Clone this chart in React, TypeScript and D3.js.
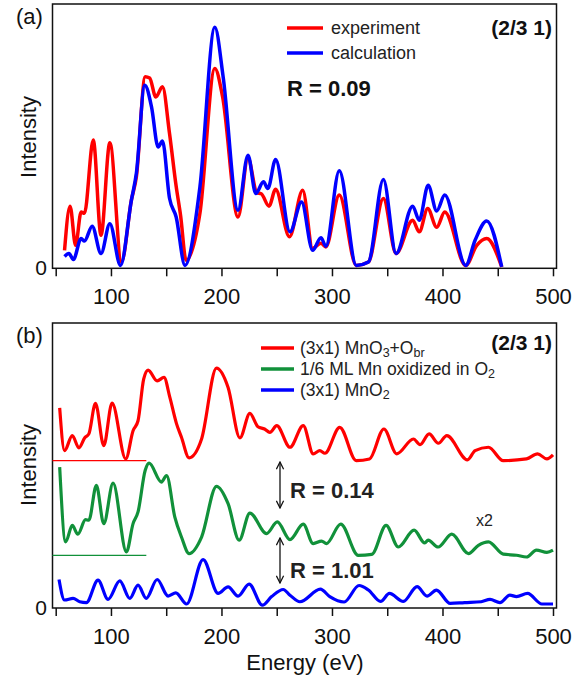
import React, { useRef, useEffect } from 'react';
import * as d3 from 'd3';

// ---- panel (a): experiment vs. calculation ----
const expEnergy = [58, 63, 68, 73, 76, 84, 91, 99, 109.5, 118.5, 123, 131, 135, 140.6, 146.6, 153, 159, 163, 168, 180.5, 194, 201, 215, 224, 232, 236, 243, 249, 261.5, 273.5, 282.5, 290, 294.5, 306.6, 322, 333, 346.5, 358, 373, 379, 386.6, 394.8, 402, 421, 431, 440, 453.6];
const expIntensity = [6.8, 23.5, 8.7, 21.3, 20.8, 48.5, 12.5, 47.5, 2.4, 25.8, 34.6, 72.5, 72, 64.8, 68.7, 51, 31, 20, 3, 20.8, 75.6, 64.9, 19.4, 41.7, 28.6, 28.2, 23.5, 29.9, 11.9, 29.5, 7.5, 9.5, 8.1, 27.7, 1.1, 2.4, 26.4, 5.6, 18.2, 13.8, 22.6, 15.5, 21.3, 1.1, 8.7, 11.3, 0.5];

const calcEnergy = [58, 62, 66, 73, 76, 83, 91, 99, 108.6, 118.5, 123, 130.6, 136.7, 142.7, 146.6, 153, 159, 167, 180.5, 194, 201.5, 215, 224, 231, 238, 242, 249, 262, 272.5, 282.5, 290, 294.5, 306.6, 322, 333, 346.5, 358, 373, 379, 387, 394.8, 402, 421, 429.5, 440, 453.6];
const calcIntensity = [4.5, 5.6, 3.3, 11.3, 10.3, 15.9, 5.6, 16.9, 1.1, 25.8, 36, 69.3, 61.1, 45.9, 48.2, 26.5, 19.4, 1.1, 30.8, 91.2, 72.5, 22, 42.8, 28.3, 32.7, 30.2, 41.2, 13.8, 25.1, 6.8, 11.6, 8.3, 36.9, 1.1, 2.4, 33.6, 5.6, 23.5, 18.2, 31.4, 21.7, 27.7, 1.1, 10.6, 17.9, 0.5];

// ---- panel (b): stacked spectra (offsets included) ----
const obrEnergy = [53.6, 58, 65, 71, 76.3, 80, 86, 93.5, 101, 113.4, 120, 124.5, 129.6, 133.6, 141.8, 148, 153.3, 159.3, 163.8, 170.7, 182, 195.5, 206, 216.7, 225.7, 233, 239, 243.8, 250, 262, 274, 283, 289, 293.6, 307, 322, 334, 347, 358.6, 373.7, 379.7, 387.9, 396.3, 403.9, 422.6, 429.5, 441.6, 455, 476, 486, 494.5, 500];
const obrIntensity = [70.2, 55.2, 60.5, 56.2, 59.7, 61.1, 71.8, 57, 71.9, 52.3, 62.2, 65.7, 80.3, 83.5, 79.7, 80.9, 73.9, 64.7, 59.9, 52.7, 59.3, 84.2, 77.4, 59.7, 68.3, 63.6, 62.8, 61.6, 64, 56.4, 64, 54.1, 55.2, 54.3, 63.4, 51.7, 52.3, 62.8, 54.1, 59.3, 57.3, 61.1, 57.8, 60.5, 52, 55.2, 56.4, 51.7, 52.3, 54.1, 52.3, 53.7];

const oxEnergy = [53.6, 59, 65, 70, 77, 80, 86.8, 93.5, 101.9, 114, 120, 124.5, 131, 134.5, 145.7, 150.3, 157.8, 163.8, 170.7, 182, 195.5, 206, 216, 225.7, 240.8, 250.5, 262, 274, 283, 290.6, 295, 307.9, 323.8, 336, 349, 360, 374.3, 384, 387, 396, 408.4, 423.5, 432.5, 441.6, 455, 467, 476, 485, 494.5, 500];
const oxIntensity = [49.4, 23.2, 29, 25.9, 31, 30.8, 43, 29.6, 43.8, 19.7, 29.6, 33.7, 48.3, 50.8, 44.2, 46.5, 31.9, 24.9, 19.1, 24.9, 42.7, 36.6, 23.8, 33.3, 26.1, 30.2, 24, 29.4, 22.6, 23.5, 22.6, 29.4, 18.5, 18.8, 29, 21.4, 27.3, 22.8, 23.8, 21.4, 25.9, 19.1, 22, 23.2, 18.9, 18.5, 17.9, 20.3, 19.5, 20.3];

const mno2Energy = [53, 58, 65.7, 71.7, 77.8, 88.3, 97.4, 108, 117, 124.5, 132, 141.8, 151.7, 158.7, 168.4, 183.4, 197, 206, 215, 225, 237, 245.4, 255.9, 262, 271, 289.5, 298, 311, 324.5, 333, 344, 352, 364.6, 377, 386, 394.5, 407, 420, 435, 443, 452, 461, 467, 477, 490, 500];
const mno2Intensity = [10, 2.8, 3.4, 2.2, 1.9, 9.8, 3, 9.5, 3.4, 8, 3.4, 10, 4.2, 5.3, 1.4, 17, 5.1, 7.4, 4.2, 8.4, 1, 4, 6.5, 4.5, 2.2, 6.6, 4, 2.1, 7.9, 6.3, 2.3, 5.1, 2.3, 7.5, 4.2, 6.3, 1.6, 1.9, 2.2, 3, 1.9, 4.5, 4, 5.1, 1.4, 1.4];

const xTicks = [50, 100, 150, 200, 250, 300, 350, 400, 450, 500];
const redBaseline = 51.7;
const greenBaseline = 18.5;
const baselineEnd = 132;

const FONT = '"Liberation Sans", Arial, Helvetica, sans-serif';
const RED = '#ff0000';
const BLUE = '#0000ff';
const GREEN = '#11913a';

const zip = (xs: number[], ys: number[]) => xs.map((x, i) => ({ e: x, v: ys[i] }));

function App() {
  const svgRef = useRef<SVGSVGElement>(null);

  useEffect(() => {
    const svg = d3.select(svgRef.current);
    svg.selectAll('*').remove();

    const x = d3.scaleLinear().domain([50, 500]).range([55.7, 553]);
    const frameL = 52.5;
    const frameR = 556.5;

    const drawPanel = (top: number, bottom: number, label: string, labelY: number, intensityY: number) => {
      const y = d3.scaleLinear().domain([0, 100]).range([bottom, top]);
      const g = svg.append('g');
      g.append('rect')
        .attr('x', frameL).attr('y', top)
        .attr('width', frameR - frameL).attr('height', bottom - top)
        .attr('fill', 'none').attr('stroke', '#111').attr('stroke-width', 1.5);

      const axis = d3.axisBottom(x)
        .tickValues(xTicks)
        .tickSize(8)
        .tickPadding(12)
        .tickFormat((d: any) => (d % 100 === 0 ? String(d) : ''));
      const ag = g.append('g').attr('transform', `translate(0,${bottom})`).call(axis);
      ag.select('.domain').remove();
      ag.selectAll('line').attr('stroke', '#111').attr('stroke-width', 1.5);
      ag.selectAll('text').attr('font-family', FONT).attr('font-size', 22).attr('fill', '#111');

      g.append('text').attr('x', 47).attr('y', bottom + 7)
        .attr('text-anchor', 'end').attr('font-family', FONT).attr('font-size', 21).attr('fill', '#111')
        .text('0');
      g.append('text')
        .attr('transform', `translate(36,${intensityY}) rotate(-90)`)
        .attr('text-anchor', 'middle').attr('font-family', FONT).attr('font-size', 22).attr('fill', '#111')
        .text('Intensity');
      g.append('text').attr('x', 16).attr('y', labelY)
        .attr('font-family', FONT).attr('font-size', 22).attr('fill', '#111')
        .text(label);
      return { g, y };
    };

    // ---------- panel (a) ----------
    const a = drawPanel(4, 268.3, '(a)', 24, 137);
    const lineA = d3.line<{ e: number; v: number }>()
      .x((d) => x(d.e)).y((d) => a.y(d.v)).curve(d3.curveMonotoneX);
    a.g.append('path').attr('d', lineA(zip(expEnergy, expIntensity)))
      .attr('fill', 'none').attr('stroke', RED).attr('stroke-width', 3.5);
    a.g.append('path').attr('d', lineA(zip(calcEnergy, calcIntensity)))
      .attr('fill', 'none').attr('stroke', BLUE).attr('stroke-width', 3.5);

    const legA = [
      { name: 'experiment', color: RED, yy: 28 },
      { name: 'calculation', color: BLUE, yy: 53 },
    ];
    legA.forEach((l) => {
      a.g.append('line').attr('x1', 287).attr('x2', 323).attr('y1', l.yy).attr('y2', l.yy)
        .attr('stroke', l.color).attr('stroke-width', 3.5);
      a.g.append('text').attr('x', 331).attr('y', l.yy + 6)
        .attr('font-family', FONT).attr('font-size', 18).attr('fill', '#222').text(l.name);
    });
    a.g.append('text').attr('x', 552).attr('y', 35).attr('text-anchor', 'end')
      .attr('font-family', FONT).attr('font-size', 21).attr('font-weight', 'bold').attr('fill', '#111')
      .text('(2/3 1)');
    a.g.append('text').attr('x', 287).attr('y', 96)
      .attr('font-family', FONT).attr('font-size', 22).attr('font-weight', 'bold').attr('fill', '#111')
      .text('R = 0.09');

    // ---------- panel (b) ----------
    const b = drawPanel(323, 608, '(b)', 343, 465);
    const lineB = d3.line<{ e: number; v: number }>()
      .x((d) => x(d.e)).y((d) => b.y(d.v)).curve(d3.curveMonotoneX);

    b.g.append('line').attr('x1', frameL).attr('x2', x(baselineEnd))
      .attr('y1', b.y(redBaseline)).attr('y2', b.y(redBaseline))
      .attr('stroke', RED).attr('stroke-width', 1.2);
    b.g.append('line').attr('x1', frameL).attr('x2', x(baselineEnd))
      .attr('y1', b.y(greenBaseline)).attr('y2', b.y(greenBaseline))
      .attr('stroke', GREEN).attr('stroke-width', 1.2);

    [
      { e: obrEnergy, v: obrIntensity, c: RED },
      { e: oxEnergy, v: oxIntensity, c: GREEN },
      { e: mno2Energy, v: mno2Intensity, c: BLUE },
    ].forEach((s) => {
      b.g.append('path').attr('d', lineB(zip(s.e, s.v)))
        .attr('fill', 'none').attr('stroke', s.c).attr('stroke-width', 3.2);
    });

    // legend with subscripts
    const legB = [
      { color: RED, yy: 348, parts: [['(3x1) MnO', false], ['3', true], ['+O', false], ['br', true]] },
      { color: GREEN, yy: 369, parts: [['1/6 ML Mn oxidized in O', false], ['2', true]] },
      { color: BLUE, yy: 390, parts: [['(3x1) MnO', false], ['2', true]] },
    ];
    legB.forEach((l) => {
      b.g.append('line').attr('x1', 261).attr('x2', 294).attr('y1', l.yy).attr('y2', l.yy)
        .attr('stroke', l.color).attr('stroke-width', 3.5);
      const t = b.g.append('text').attr('x', 300).attr('y', l.yy + 6)
        .attr('font-family', FONT).attr('font-size', 17.5).attr('fill', '#222');
      (l.parts as [string, boolean][]).forEach(([txt, isSub]) => {
        const ts = t.append('tspan').text(txt);
        if (isSub) ts.attr('baseline-shift', '-22%').attr('font-size', 12.5);
      });
    });
    b.g.append('text').attr('x', 552).attr('y', 350).attr('text-anchor', 'end')
      .attr('font-family', FONT).attr('font-size', 21).attr('font-weight', 'bold').attr('fill', '#111')
      .text('(2/3 1)');

    // double arrows + R values
    const defs = svg.append('defs');
    defs.append('marker').attr('id', 'head').attr('viewBox', '0 0 10 10')
      .attr('refX', 9).attr('refY', 5).attr('markerWidth', 9).attr('markerHeight', 9)
      .attr('orient', 'auto-start-reverse').attr('markerUnits', 'userSpaceOnUse')
      .append('path').attr('d', 'M1,1 L9,5 L1,9').attr('fill', 'none').attr('stroke', '#111').attr('stroke-width', 1.4);
    const arrows = [
      { y1: 462, y2: 508, label: 'R = 0.14', ly: 498 },
      { y1: 538, y2: 583, label: 'R = 1.01', ly: 578 },
    ];
    arrows.forEach((ar) => {
      b.g.append('line').attr('x1', 280).attr('x2', 280).attr('y1', ar.y1).attr('y2', ar.y2)
        .attr('stroke', '#111').attr('stroke-width', 1.3)
        .attr('marker-start', 'url(#head)').attr('marker-end', 'url(#head)');
      b.g.append('text').attr('x', 290).attr('y', ar.ly)
        .attr('font-family', FONT).attr('font-size', 22).attr('font-weight', 'bold').attr('fill', '#222')
        .text(ar.label);
    });
    b.g.append('text').attr('x', 476).attr('y', 526)
      .attr('font-family', FONT).attr('font-size', 16).attr('fill', '#222').text('x2');

    b.g.append('text').attr('x', 305).attr('y', 670).attr('text-anchor', 'middle')
      .attr('font-family', FONT).attr('font-size', 22).attr('fill', '#111')
      .text('Energy (eV)');
  }, []);

  return (
    <svg
      ref={svgRef}
      width={586}
      height={681}
      style={{ position: 'absolute', left: 0, top: 0, background: '#fff' }}
    />
  );
}

export default App;
